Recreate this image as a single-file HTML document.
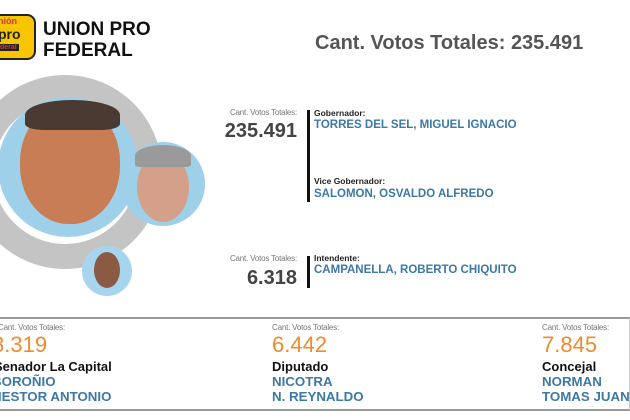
<!DOCTYPE html>
<html><head><meta charset="utf-8"><style>
body{margin:0;width:630px;height:420px;background:#fff;position:relative;overflow:hidden;font-family:"Liberation Sans",Arial,sans-serif}
.a{position:absolute;white-space:nowrap}
.sm{font-size:8px;color:#777;letter-spacing:-0.2px}
.big{font-size:20px;font-weight:bold;color:#444}
.role{font-size:8.5px;font-weight:bold;color:#222}
.nm{font-size:11.5px;font-weight:bold;color:#3d78a6}
.bar{position:absolute;width:3px;background:#111}
.or{font-size:22px;color:#f08a30}
.rb{font-size:13px;font-weight:bold;color:#111}
.bn{font-size:13.3px;font-weight:bold;color:#3d78a6}
.c{position:absolute;border-radius:50%}
</style></head><body>
<div class="a" style="left:-12px;top:14px;width:48px;height:46px;background:#f7c600;border:2px solid #222;border-radius:9px;box-sizing:border-box"></div>
<div class="a" style="left:-2px;top:17px;font-size:9px;font-weight:bold;color:#d33;line-height:9px">nión</div>
<div class="a" style="left:-2px;top:27px;font-size:14px;font-weight:bold;color:#222;line-height:14px">pro</div>
<div class="a" style="left:-2px;top:44px;font-size:7px;font-weight:bold;color:#d33;background:#222;padding:0 2px">deral</div>
<div class="a" style="left:43px;top:19px;font-size:19px;font-weight:bold;color:#111;line-height:21px">UNION PRO<br>FEDERAL</div>
<div class="a" style="left:315px;top:32px;font-size:20px;font-weight:bold;color:#555">Cant. Votos Totales: 235.491</div>

<div class="c" style="left:-32px;top:75px;width:194px;height:194px;background:#c4c4c4"></div>
<div class="c" style="left:-7px;top:100px;width:144px;height:144px;background:#fff"></div>
<div class="c" style="left:-2px;top:97px;width:140px;height:140px;background:#9fd0ea"></div>
<div class="c" style="left:20px;top:104px;width:100px;height:120px;background:#c97d55;border-radius:48%"></div>
<div class="c" style="left:25px;top:100px;width:95px;height:30px;background:#4a3a32;border-radius:50% 50% 20% 20%"></div>
<div class="c" style="left:121px;top:142px;width:84px;height:84px;background:#9fd0ea"></div>
<div class="c" style="left:137px;top:152px;width:52px;height:70px;background:#d4a08a"></div>
<div class="c" style="left:135px;top:145px;width:56px;height:22px;background:#9a9a9a;border-radius:50% 50% 10% 10%"></div>
<div class="c" style="left:82px;top:246px;width:50px;height:50px;background:#a8d5ee"></div>
<div class="c" style="left:94px;top:252px;width:26px;height:36px;background:#8a5a45"></div>

<div class="a sm" style="left:223px;top:108px;width:74px;text-align:right">Cant. Votos Totales:</div>
<div class="a big" style="left:222px;top:120px;width:75px;text-align:right">235.491</div>
<div class="bar" style="left:307px;top:110px;height:92px"></div>
<div class="a role" style="left:314px;top:108px">Gobernador:</div>
<div class="a nm" style="left:314px;top:119px">TORRES DEL SEL, MIGUEL IGNACIO</div>
<div class="a role" style="left:314px;top:176px">Vice Gobernador:</div>
<div class="a nm" style="left:314px;top:188px">SALOMON, OSVALDO ALFREDO</div>

<div class="a sm" style="left:223px;top:254px;width:74px;text-align:right">Cant. Votos Totales:</div>
<div class="a big" style="left:222px;top:267px;width:75px;text-align:right">6.318</div>
<div class="bar" style="left:307px;top:256px;height:32px"></div>
<div class="a role" style="left:314px;top:253px">Intendente:</div>
<div class="a nm" style="left:314px;top:264px">CAMPANELLA, ROBERTO CHIQUITO</div>

<div class="a" style="left:0;top:317px;width:629px;height:90px;border-top:2px solid #999;border-bottom:2px solid #999;border-right:1px solid #ccc"></div>
<div class="a sm" style="left:-2px;top:323px">Cant. Votos Totales:</div>
<div class="a or" style="left:-8px;top:332px">8.319</div>
<div class="a rb" style="left:-6px;top:359px">Senador La Capital</div>
<div class="a bn" style="left:-8px;top:374px">BOROÑIO</div>
<div class="a bn" style="left:-8px;top:389px">NESTOR ANTONIO</div>

<div class="a sm" style="left:272px;top:323px">Cant. Votos Totales:</div>
<div class="a or" style="left:272px;top:332px">6.442</div>
<div class="a rb" style="left:272px;top:359px">Diputado</div>
<div class="a bn" style="left:272px;top:374px">NICOTRA</div>
<div class="a bn" style="left:272px;top:389px">N. REYNALDO</div>

<div class="a sm" style="left:542px;top:323px">Cant. Votos Totales:</div>
<div class="a or" style="left:542px;top:332px">7.845</div>
<div class="a rb" style="left:542px;top:359px">Concejal</div>
<div class="a bn" style="left:542px;top:374px">NORMAN</div>
<div class="a bn" style="left:542px;top:389px">TOMAS JUAN</div>
</body></html>
